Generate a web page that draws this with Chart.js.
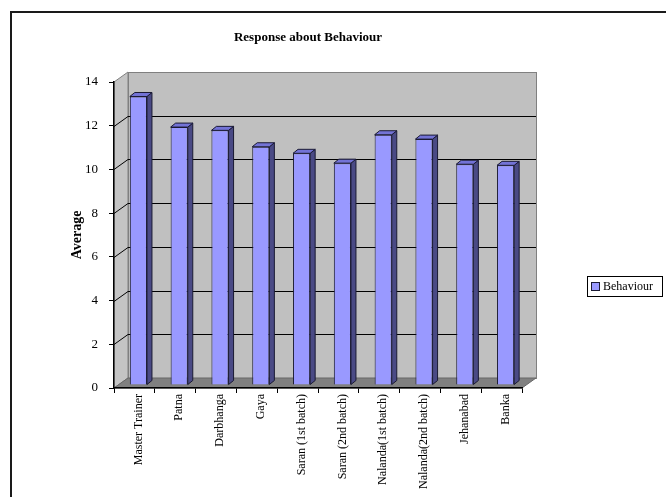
<!DOCTYPE html>
<html>
<head>
<meta charset="utf-8">
<script src="https://cdn.jsdelivr.net/npm/chart.js@4.4.1/dist/chart.umd.min.js"></script>
<style>
  body { margin: 0; background: #fff; }
  #wrap { width: 666px; height: 497px; }
</style>
</head>
<body>
<div id="wrap"><canvas id="behaviourChart" width="666" height="497"></canvas></div>
<script>
const categories = [
  'Master Trainer', 'Patna', 'Darbhanga', 'Gaya', 'Saran (1st batch)',
  'Saran (2nd batch)', 'Nalanda(1st batch)', 'Nalanda(2nd batch)', 'Jehanabad', 'Banka',
];
const behaviourValues = [13.2, 11.8, 11.65, 10.9, 10.6, 10.15, 11.45, 11.25, 10.1, 10.05];
const yTicks = [0, 2, 4, 6, 8, 10, 12, 14];
const seriesName = 'Behaviour';

const FONT = "'Liberation Serif', 'Times New Roman', serif";
const DEPTH = { x: 14, y: -10 }; // depth of the 3d box
const BAR_SHIFT = { x: 4, y: -3 }; // bars sit a bit behind the front plane
const BAR_DEPTH = { x: 5, y: -4 };

// walls, floor and gridlines of the 3d box, drawn before the axes
const box3d = {
  id: 'box3d',
  beforeDraw(chart) {
    const { ctx, chartArea: a } = chart;
    const yScale = chart.scales.y;
    const dx = DEPTH.x;
    const dy = DEPTH.y;
    ctx.save();
    ctx.lineWidth = 1;
    ctx.strokeStyle = '#808080';

    // back wall
    ctx.fillStyle = '#c0c0c0';
    ctx.fillRect(a.left + dx, a.top + dy, a.right - a.left, a.bottom - a.top);
    ctx.strokeRect(a.left + dx + 0.5, a.top + dy + 0.5, a.right - a.left, a.bottom - a.top);

    // left wall
    ctx.beginPath();
    ctx.moveTo(a.left, a.top);
    ctx.lineTo(a.left + dx, a.top + dy);
    ctx.lineTo(a.left + dx, a.bottom + dy);
    ctx.lineTo(a.left, a.bottom);
    ctx.closePath();
    ctx.fillStyle = '#c4c4c4';
    ctx.fill();
    ctx.stroke();

    // floor
    ctx.beginPath();
    ctx.moveTo(a.left, a.bottom);
    ctx.lineTo(a.right, a.bottom);
    ctx.lineTo(a.right + dx, a.bottom + dy);
    ctx.lineTo(a.left + dx, a.bottom + dy);
    ctx.closePath();
    ctx.fillStyle = '#808080';
    ctx.fill();
    ctx.strokeStyle = '#666';
    ctx.stroke();

    // gridlines
    ctx.strokeStyle = '#000';
    yTicks.slice(1, -1).forEach((v) => {
      const y = Math.round(yScale.getPixelForValue(v)) + 0.5;
      ctx.beginPath();
      ctx.moveTo(a.left, y);
      ctx.lineTo(a.left + dx, y + dy);
      ctx.lineTo(a.right + dx, y + dy);
      ctx.stroke();
    });
    ctx.restore();
  },
  beforeDatasetsDraw(chart) {
    chart.ctx.save();
    chart.ctx.translate(BAR_SHIFT.x, BAR_SHIFT.y);
  },
  afterDatasetsDraw(chart) {
    const { ctx } = chart;
    ctx.restore();
    const meta = chart.getDatasetMeta(0);
    ctx.save();
    ctx.lineWidth = 1;
    ctx.strokeStyle = '#1a1a33';
    meta.data.forEach((bar) => {
      const p = bar.getProps(['x', 'y', 'base', 'width'], true);
      const left = p.x - p.width / 2 + BAR_SHIFT.x;
      const right = p.x + p.width / 2 + BAR_SHIFT.x;
      const top = p.y + BAR_SHIFT.y;
      const bottom = p.base + BAR_SHIFT.y;
      // side face
      ctx.beginPath();
      ctx.moveTo(right, top);
      ctx.lineTo(right + BAR_DEPTH.x, top + BAR_DEPTH.y);
      ctx.lineTo(right + BAR_DEPTH.x, bottom + BAR_DEPTH.y);
      ctx.lineTo(right, bottom);
      ctx.closePath();
      ctx.fillStyle = '#4a4a85';
      ctx.fill();
      ctx.stroke();
      // top face
      ctx.beginPath();
      ctx.moveTo(left, top);
      ctx.lineTo(left + BAR_DEPTH.x, top + BAR_DEPTH.y);
      ctx.lineTo(right + BAR_DEPTH.x, top + BAR_DEPTH.y);
      ctx.lineTo(right, top);
      ctx.closePath();
      ctx.fillStyle = '#7373d6';
      ctx.fill();
      ctx.stroke();
    });
    ctx.restore();
  },
  afterDraw(chart) {
    const { ctx } = chart;
    ctx.save();
    // outer frame (runs off the right and bottom edges)
    ctx.strokeStyle = '#1a1a1a';
    ctx.lineWidth = 2;
    ctx.beginPath();
    ctx.moveTo(11, 497);
    ctx.lineTo(11, 12);
    ctx.lineTo(666, 12);
    ctx.stroke();

    // legend
    ctx.lineWidth = 1;
    ctx.strokeStyle = '#000';
    ctx.strokeRect(587.5, 276.5, 75, 20);
    ctx.fillStyle = '#9999ff';
    ctx.fillRect(591.5, 282.5, 8, 8);
    ctx.strokeStyle = '#1a1a33';
    ctx.strokeRect(591.5, 282.5, 8, 8);
    ctx.fillStyle = '#000';
    ctx.font = `12px ${FONT}`;
    ctx.textBaseline = 'middle';
    ctx.fillText(seriesName, 603, 287);
    ctx.restore();
  },
};

const ctx = document.getElementById('behaviourChart').getContext('2d');
const behaviourChart = new Chart(ctx, {
  type: 'bar',
  data: {
    labels: categories,
    datasets: [{
      label: seriesName,
      data: behaviourValues,
      backgroundColor: '#9999ff',
      borderColor: '#1a1a33',
      borderWidth: 1,
      categoryPercentage: 1,
      barPercentage: 0.42,
    }],
  },
  options: {
    responsive: false,
    devicePixelRatio: 1,
    animation: false,
    layout: {
      padding: { left: 10, right: 60, top: 0, bottom: 0 },
    },
    plugins: {
      legend: { display: false },
      tooltip: { enabled: false },
      title: {
        display: true,
        text: 'Response about Behaviour',
        color: '#000',
        font: { family: FONT, size: 13, weight: 'bold' },
        padding: { top: 30, bottom: 36.4 },
      },
    },
    scales: {
      x: {
        grid: {
          offset: true,
          drawOnChartArea: false,
          drawTicks: true,
          tickLength: 5,
          color: '#000',
        },
        border: { display: true, color: '#000', width: 1.5 },
        ticks: {
          autoSkip: false,
          minRotation: 90,
          maxRotation: 90,
          padding: 1,
          labelOffset: 4,
          color: '#000',
          font: { family: FONT, size: 12 },
        },
        afterFit(scale) {
          scale.height = 109;
        },
      },
      y: {
        min: 0,
        max: 14,
        ticks: {
          stepSize: 2,
          padding: 11,
          color: '#000',
          font: { family: FONT, size: 13 },
        },
        grid: {
          drawOnChartArea: false,
          drawTicks: true,
          tickLength: 5,
          color: '#000',
        },
        border: { display: true, color: '#000', width: 1.5 },
        title: {
          display: true,
          text: 'Average',
          color: '#000',
          font: { family: FONT, size: 14, weight: 'bold' },
          padding: { top: 59, bottom: 0 },
        },
        afterFit(scale) {
          scale.width = 104;
        },
      },
      // empty axis that keeps room on the right for the box depth and legend
      yRight: {
        position: 'right',
        display: true,
        grid: { display: false },
        border: { display: false },
        ticks: { display: false },
        afterFit(scale) {
          scale.width = 84;
        },
      },
    },
  },
  plugins: [box3d],
});
</script>
</body>
</html>
